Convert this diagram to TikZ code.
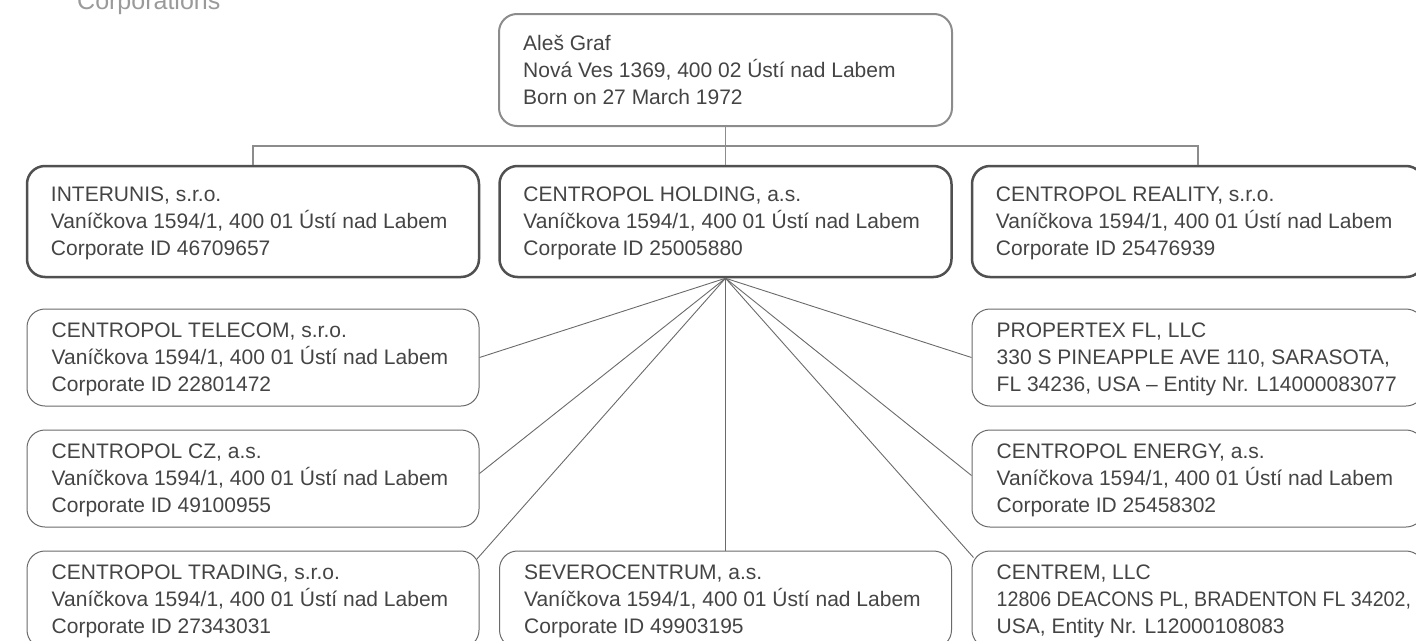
\documentclass[tikz,border=0pt]{standalone}
\usepackage{fontspec}
\usepackage{graphicx}
\setmainfont{Liberation Sans}
\usetikzlibrary{calc}
\definecolor{txt}{HTML}{444444}
\definecolor{dark}{HTML}{505050}
\definecolor{mid}{HTML}{6a6a6a}
\definecolor{light}{HTML}{8c8c8c}
\definecolor{head}{HTML}{9a9a9a}
\tikzset{
  box/.style={rounded corners=18pt, inner sep=0pt, anchor=center},
  topbox/.style={box, draw=light, line width=2pt, minimum width=453pt, minimum height=112pt},
  mainbox/.style={box, draw=dark, line width=2.5pt, minimum width=452pt, minimum height=111pt},
  subbox/.style={box, draw=mid, line width=1pt, minimum width=452pt, minimum height=97pt},
  boxtext/.style={anchor=base west, inner sep=0pt, align=left, text=txt,
    font=\fontsize{21pt}{27pt}\selectfont},
  tree/.style={draw=light, line width=1.5pt},
  fan/.style={draw=mid, line width=0.9pt},
}
% #5 = baseline of the LAST line below the box top
\newcommand{\orgbox}[6]{%
  \node[#2] (#1) at (#3,#4) {};
  \node[boxtext] (#1t) at ($(#1.north west)+(25,#5)$) {#6};
}
\begin{document}
\begin{tikzpicture}[x=1pt,y=-1pt]
\useasboundingbox (0,0) rectangle (1416,640);
\clip (0,0) rectangle (1416,640);
\node[anchor=base west, text=head, font=\fontsize{25pt}{30pt}\selectfont, inner sep=0pt] (title) at (77,9) {Corporations};

\orgbox{ales}{topbox}{725.5}{70}{91}{Aleš Graf\\Nová Ves 1369, 400 02 Ústí nad Labem\\Born on 27 March 1972}

\orgbox{interunis}{mainbox}{253}{221.5}{91}{INTERUNIS, s.r.o.\\Vaníčkova 1594/1, 400 01 Ústí nad Labem\\Corporate ID 46709657}
\orgbox{hold}{mainbox}{725.5}{221.5}{91}{CENTROPOL HOLDING, a.s.\\Vaníčkova 1594/1, 400 01 Ústí nad Labem\\Corporate ID 25005880}
\orgbox{reality}{mainbox}{1198}{221.5}{91}{CENTROPOL REALITY, s.r.o.\\Vaníčkova 1594/1, 400 01 Ústí nad Labem\\Corporate ID 25476939}

\orgbox{telecom}{subbox}{253}{357.5}{83}{CENTROPOL TELECOM, s.r.o.\\Vaníčkova 1594/1, 400 01 Ústí nad Labem\\Corporate ID 22801472}
\orgbox{cz}{subbox}{253}{478.5}{83}{CENTROPOL CZ, a.s.\\Vaníčkova 1594/1, 400 01 Ústí nad Labem\\Corporate ID 49100955}
\orgbox{trading}{subbox}{253}{599.5}{83}{CENTROPOL TRADING, s.r.o.\\Vaníčkova 1594/1, 400 01 Ústí nad Labem\\Corporate ID 27343031}
\orgbox{sev}{subbox}{725.5}{599.5}{83}{SEVEROCENTRUM, a.s.\\Vaníčkova 1594/1, 400 01 Ústí nad Labem\\Corporate ID 49903195}
\orgbox{propertex}{subbox}{1198}{357.5}{83}{PROPERTEX FL, LLC\\330 S PINEAPPLE AVE 110, SARASOTA,\\FL 34236, USA – Entity Nr. L14000083077}
\orgbox{energy}{subbox}{1198}{478.5}{83}{CENTROPOL ENERGY, a.s.\\Vaníčkova 1594/1, 400 01 Ústí nad Labem\\Corporate ID 25458302}
\orgbox{centrem}{subbox}{1198}{599.5}{83}{CENTREM, LLC\\\scalebox{0.935}[1]{12806 DEACONS PL, BRADENTON FL 34202,}\\USA, Entity Nr. L12000108083}

\coordinate (bar) at (725.5,146);
\draw[tree] (ales.south) -- (hold.north);
\draw[tree] (interunis.north) -- (interunis.north |- bar) -- (reality.north |- bar) -- (reality.north);

\draw[fan] (hold.south) -- (telecom.east);
\draw[fan] (hold.south) -- ($(cz.east)+(0,-5)$);
\draw[fan] (hold.south) -- ($(trading.north east)+(-3,9)$);
\draw[fan] (hold.south) -- (sev.north);
\draw[fan] (hold.south) -- (propertex.west);
\draw[fan] (hold.south) -- ($(energy.west)+(0,-3)$);
\draw[fan] (hold.south) -- ($(centrem.north west)+(2,7)$);
\end{tikzpicture}
\end{document}
